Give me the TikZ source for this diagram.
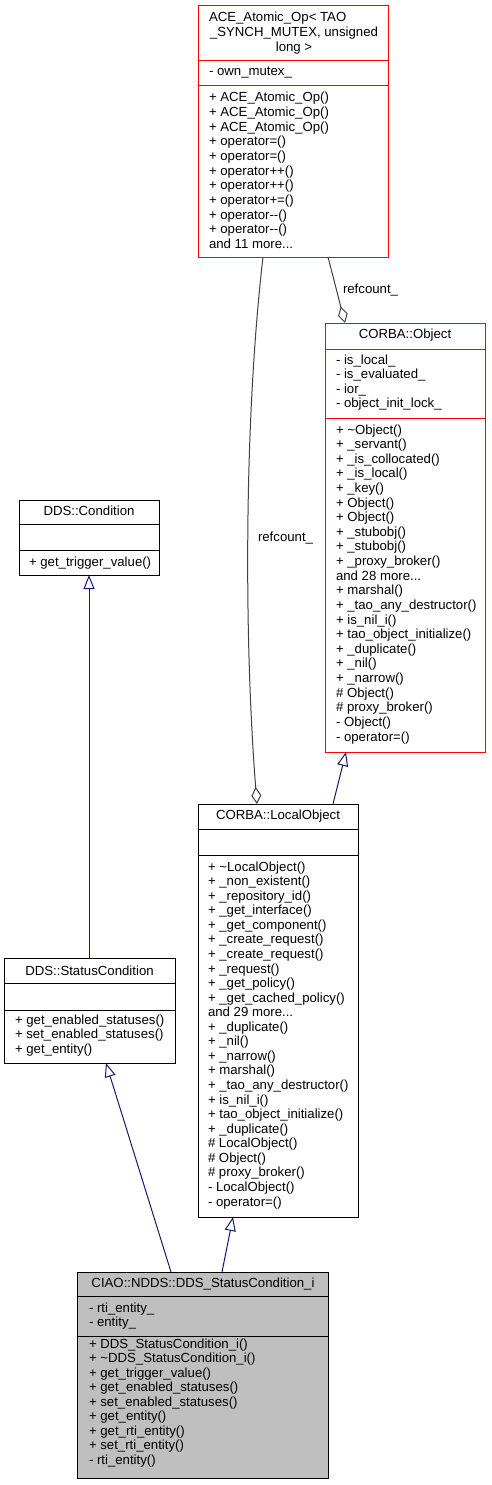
\documentclass[tikz,border=0pt]{standalone}
\usepackage{fontspec}
\setmainfont{Liberation Sans}
\usetikzlibrary{arrows.meta}
\definecolor{edgenavy}{HTML}{191970}
\definecolor{agggray}{HTML}{404040}
\definecolor{boxred}{HTML}{FF0000}
\definecolor{ciaofill}{HTML}{BFBFBF}
\newcommand{\dfont}{\fontsize{13.2}{14.6}\selectfont}
\newcommand{\tdots}{...}
\begin{document}
\begin{tikzpicture}[x=1pt,y=-1pt,
  cls/.style={draw=black, rectangle, inner sep=0pt, outer sep=0pt, line width=1pt, fill=white},
  redcls/.style={cls, draw=boxred},
  sepline/.style={line width=1pt, draw=black},
  redsep/.style={line width=1pt, draw=boxred},
  txt/.style={inner sep=0pt, outer sep=0pt, font=\dfont, text=black},
  lt/.style={txt, anchor=base west},
  ct/.style={txt, anchor=base},
  inh/.style={draw=edgenavy, line width=1pt, -{Triangle[open, length=14pt, width=11pt]}},
  agg/.style={draw=agggray, line width=1pt, -{Diamond[open, length=17pt, width=10pt]}},
]
\fill[white] (0,0) rectangle (491,1485);
\useasboundingbox (0,0) rectangle (491,1485);

% ---------- boxes ----------
\node[redcls, minimum width=190pt, minimum height=251pt] (ace) at (293,131.5) {};
\node[redcls, minimum width=160pt, minimum height=429pt] (obj) at (405,537.5) {};
\node[cls, minimum width=160pt, minimum height=413pt] (local) at (278,1010.5) {};
\node[cls, minimum width=140pt, minimum height=75pt] (cond) at (89,537.5) {};
\node[cls, minimum width=171pt, minimum height=105pt] (status) at (89.5,1010.5) {};
\node[cls, fill=ciaofill, minimum width=251pt, minimum height=206pt] (ciao) at (202.5,1375) {};

% ---------- separators ----------
\draw[redsep] ([yshift=-55pt]ace.north west) -- ([yshift=-55pt]ace.north east);
\draw[redsep] ([yshift=-80pt]ace.north west) -- ([yshift=-80pt]ace.north east);
\draw[redsep] ([yshift=-26pt]obj.north west) -- ([yshift=-26pt]obj.north east);
\draw[redsep] ([yshift=-95pt]obj.north west) -- ([yshift=-95pt]obj.north east);
\draw[sepline] ([yshift=-25pt]local.north west) -- ([yshift=-25pt]local.north east);
\draw[sepline] ([yshift=-51pt]local.north west) -- ([yshift=-51pt]local.north east);
\draw[sepline] ([yshift=-24pt]cond.north west) -- ([yshift=-24pt]cond.north east);
\draw[sepline] ([yshift=-50pt]cond.north west) -- ([yshift=-50pt]cond.north east);
\draw[sepline] ([yshift=-25pt]status.north west) -- ([yshift=-25pt]status.north east);
\draw[sepline] ([yshift=-52pt]status.north west) -- ([yshift=-52pt]status.north east);
\draw[sepline] ([yshift=-24pt]ciao.north west) -- ([yshift=-24pt]ciao.north east);
\draw[sepline] ([yshift=-64pt]ciao.north west) -- ([yshift=-64pt]ciao.north east);

% ---------- ACE_Atomic_Op ----------
\node[lt] (ace-t1) at (209,22) {ACE\_Atomic\_Op< TAO};
\node[ct] (ace-t2) at (294,36.6) {\_SYNCH\_MUTEX, unsigned};
\node[ct] (ace-t3) at (294,51.2) {long >};
\node[lt] (ace-a1) at (209,76) {- own\_mutex\_};
\foreach \t [count=\i from 0] in {+ ACE\_Atomic\_Op(), + ACE\_Atomic\_Op(), + ACE\_Atomic\_Op(),
  + operator=(), + operator=(), + operator++(), + operator++(), + operator+=(),
  + operator-\kern0pt-(), + operator-\kern0pt-(), and 11 more\tdots}
  \node[lt] (ace-m\i) at (209,{102+\i*14.65}) {\t};

% ---------- CORBA::Object ----------
\node[ct] (obj-t) at (405,338) {CORBA::Object};
\foreach \t [count=\i from 0] in {- is\_local\_, - is\_evaluated\_, - ior\_, - object\_init\_lock\_}
  \node[lt] (obj-a\i) at (336,{364+\i*14.6}) {\t};
\foreach \t [count=\i from 0] in {+ \textasciitilde Object(), + \_servant(), + \_is\_collocated(),
  + \_is\_local(), + \_key(), + Object(), + Object(), + \_stubobj(), + \_stubobj(),
  + \_proxy\_broker(), and 28 more\tdots, + marshal(), + \_tao\_any\_destructor(),
  + is\_nil\_i(), + tao\_object\_initialize(), + \_duplicate(), + \_nil(), + \_narrow(),
  \# Object(), \# proxy\_broker(), - Object(), - operator=()}
  \node[lt] (obj-m\i) at (336,{434+\i*14.62}) {\t};

% ---------- CORBA::LocalObject ----------
\node[ct] (local-t) at (278,819) {CORBA::LocalObject};
\foreach \t [count=\i from 0] in {+ \textasciitilde LocalObject(), + \_non\_existent(),
  + \_repository\_id(), + \_get\_interface(), + \_get\_component(), + \_create\_request(),
  + \_create\_request(), + \_request(), + \_get\_policy(), + \_get\_cached\_policy(),
  and 29 more\tdots, + \_duplicate(), + \_nil(), + \_narrow(), + marshal(),
  + \_tao\_any\_destructor(), + is\_nil\_i(), + tao\_object\_initialize(), + \_duplicate(),
  \# LocalObject(), \# Object(), \# proxy\_broker(), - LocalObject(), - operator=()}
  \node[lt] (local-m\i) at (208,{871+\i*14.57}) {\t};

% ---------- DDS::Condition ----------
\node[ct] (cond-t) at (89,515) {DDS::Condition};
\node[lt] (cond-m0) at (29,566) {+ get\_trigger\_value()};

% ---------- DDS::StatusCondition ----------
\node[ct] (status-t) at (89.5,975) {DDS::StatusCondition};
\foreach \t [count=\i from 0] in {+ get\_enabled\_statuses(), + set\_enabled\_statuses(), + get\_entity()}
  \node[lt] (status-m\i) at (15,{1024+\i*14.6}) {\t};

% ---------- CIAO::NDDS::DDS_StatusCondition_i ----------
\node[ct] (ciao-t) at (203,1287) {CIAO::NDDS::DDS\_StatusCondition\_i};
\foreach \t [count=\i from 0] in {- rti\_entity\_, - entity\_}
  \node[lt] (ciao-a\i) at (89,{1312+\i*14.6}) {\t};
\foreach \t [count=\i from 0] in {+ DDS\_StatusCondition\_i(), + \textasciitilde DDS\_StatusCondition\_i(),
  + get\_trigger\_value(), + get\_enabled\_statuses(), + set\_enabled\_statuses(),
  + get\_entity(), + get\_rti\_entity(), + set\_rti\_entity(), - rti\_entity()}
  \node[lt] (ciao-m\i) at (89,{1348+\i*14.5}) {\t};

% ---------- connectors ----------
\draw[agg] ([xshift=65pt]ace.south west) .. controls (244,420) and (244,640) .. ([xshift=59pt]local.north west);
\node[lt] (lbl1) at (258,541) {refcount\_};
\draw[agg] ([xshift=130pt]ace.south west) -- ([xshift=20pt]obj.north west);
\node[lt] (lbl2) at (343,293) {refcount\_};

\draw[inh] ([xshift=85pt]status.north west) -- ([xshift=70pt]cond.south west);
\draw[inh] ([xshift=94pt]ciao.north west) -- ([xshift=102pt]status.south west);
\draw[inh] ([xshift=145pt]ciao.north west) -- ([xshift=35pt]local.south west);
\draw[inh] ([xshift=135pt]local.north west) -- ([xshift=21pt]obj.south west);
\end{tikzpicture}
\end{document}
